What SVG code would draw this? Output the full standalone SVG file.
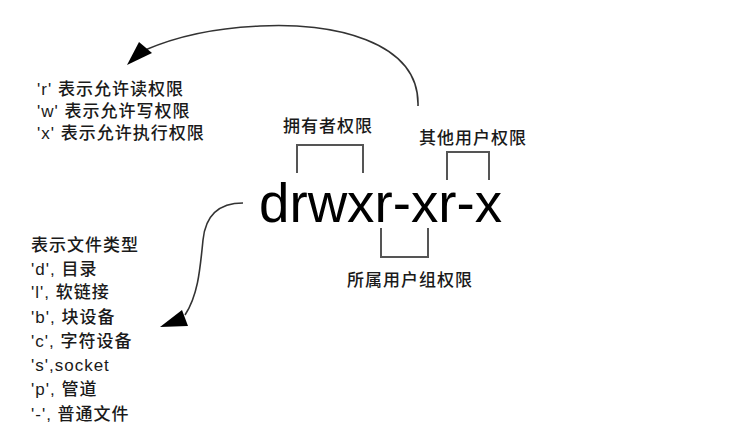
<svg xmlns="http://www.w3.org/2000/svg" width="729" height="445" viewBox="0 0 729 445">
<style>
.t{font-family:"Liberation Sans","Noto Sans CJK SC",sans-serif;font-size:17px;font-weight:500;fill:#1a1a1a;letter-spacing:1px}
.big{font-family:"Liberation Sans",sans-serif;font-size:55px;fill:#000}
.br{fill:none;stroke:#555;stroke-width:2}
.cv{fill:none;stroke:#333;stroke-width:1.6}
.ah{fill:#000}
</style>
<rect width="729" height="445" fill="#fff"/>
<g id="perm">
<text class="big" x="259" y="222" textLength="243" lengthAdjust="spacingAndGlyphs">drwxr-xr-x</text>
</g>
<g id="owner">
<path class="br" d="M297,173 V145 H363 V173"/>
<text class="t" x="283" y="132">拥有者权限</text>
</g>
<g id="others">
<path class="br" d="M447,180 V152 H489 V180"/>
<text class="t" x="419" y="144">其他用户权限</text>
</g>
<g id="group">
<path class="br" d="M381,228 V257 H428 V228"/>
<text class="t" x="347" y="286">所属用户组权限</text>
</g>
<g id="rwx">
<text class="t" x="37" y="95">'r'  表示允许读权限</text>
<text class="t" x="37" y="117">'w' 表示允许写权限</text>
<text class="t" x="37" y="139">'x'  表示允许执行权限</text>
</g>
<g id="types">
<text class="t" x="31" y="251">表示文件类型</text>
<text class="t" x="31" y="275">'d', 目录</text>
<text class="t" x="31" y="298">'l', 软链接</text>
<text class="t" x="31" y="323">'b', 块设备</text>
<text class="t" x="31" y="347">'c', 字符设备</text>
<text class="t" x="31" y="371">'s',socket</text>
<text class="t" x="31" y="395">'p', 管道</text>
<text class="t" x="31" y="420">'-', 普通文件</text>
</g>
<g id="connectors">
<path class="cv" d="M418,106 C420,40 330,22 260,26 C210,28 175,37 145,50"/>
<polygon class="ah" points="127,65 139,42 152,53"/>
<path class="cv" d="M243,203 C215,203 205,220 203,240 C200,270 198,295 185,315"/>
<polygon class="ah" points="160,327 182,310 188,326"/>
</g>
</svg>
